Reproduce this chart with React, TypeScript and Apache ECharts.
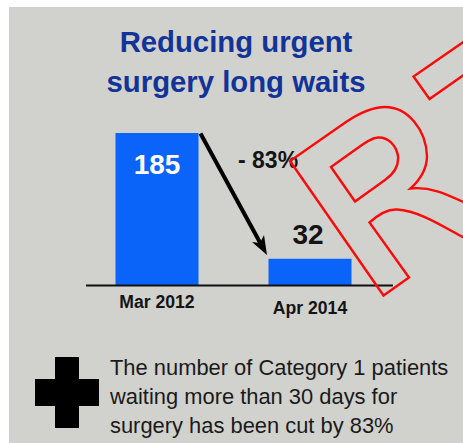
import React, { useEffect, useRef } from "react";
import * as echarts from "echarts";

const categories = ["Mar 2012", "Apr 2014"];
const waits = [185, 32];
const titleLines = ["Reducing urgent", "surgery long waits"];
const changeLabel = "- 83%";
const noteLines = [
  "The number of Category 1 patients",
  "waiting more than 30 days for",
  "surgery has been cut by 83%",
];

const R_OUTLINE =
  "M290 161 L383.5 295.5 L409 277.5 L369.5 222.5 C380 213 388 209 397 209.5 C420 211 442 226 470 241 L470 205 C450 196 432 186 410.5 188.5 C422 178 427 168 427 156 C426 130 408 107 385 107 C372 107 358 114 346 122 Z " +
  "M331 167 L355 201.5 L385 180 C395 173 399 165 398 156 C396 145 388 137 378 137.5 C370 138 362 145 352 152 Z " +
  "M413.5 76.5 L429.5 99 L475 67 L475 34 Z";
echarts.graphic.registerShape("stampR", echarts.graphic.extendPath(R_OUTLINE, {}) as any);

export default function App() {
  const ref = useRef<HTMLDivElement>(null);
  useEffect(() => {
    const chart = echarts.init(ref.current!, undefined, { renderer: "svg" });
    const black = "#141414";
    chart.setOption({
      animation: false,
      backgroundColor: "#ffffff",
      grid: { left: 80.5, width: 306, top: 133, height: 152, containLabel: false },
      xAxis: {
        type: "category",
        data: categories.map((c, i) => ({
          value: c,
          textStyle: { padding: [i === 0 ? 0 : 6, 0, 0, 0] },
        })),
        axisLine: { show: false },
        axisTick: { show: false },
        axisLabel: {
          margin: 8,
          fontFamily: "Liberation Sans",
          fontWeight: "bold",
          fontSize: 17.6,
          color: black,
        },
      },
      yAxis: { type: "value", min: 0, max: 185, show: false },
      series: [
        {
          type: "bar",
          barWidth: 83,
          itemStyle: { color: "#0a64fa" },
          data: [
            {
              value: waits[0],
              label: {
                show: true,
                position: "insideTop",
                distance: 17,
                color: "#ffffff",
                fontSize: 28,
                fontWeight: "bold",
                fontFamily: "Liberation Sans",
              },
            },
            {
              value: waits[1],
              label: {
                show: true,
                position: "top",
                distance: 10,
                offset: [-2, 0],
                color: black,
                fontSize: 28,
                fontWeight: "bold",
                fontFamily: "Liberation Sans",
              },
            },
          ],
          z: 3,
        },
      ],
      graphic: [
        { type: "rect", z: -10, silent: true, shape: { x: 9, y: 7, width: 454, height: 436 }, style: { fill: "#d1d2cd" } },
        { type: "line", z: 5, shape: { x1: 86, y1: 285.5, x2: 393, y2: 285.5 }, style: { stroke: "#111111", lineWidth: 2 } },
        { type: "line", z: 5, shape: { x1: 200.5, y1: 133.5, x2: 263, y2: 248 }, style: { stroke: "#000000", lineWidth: 4 } },
        { type: "polygon", z: 5, shape: { points: [[267, 255], [252, 242], [260, 243], [264, 235]] }, style: { fill: "#000000" } },
        ...titleLines.map((t, i) => ({
          type: "text", z: 6, x: 236, y: 41 + i * 40,
          style: { text: t, fill: "#123397", font: "bold 29.3px 'Liberation Sans'", textAlign: "center", textVerticalAlign: "middle" },
        })),
        {
          type: "text", z: 6, x: 238, y: 160,
          style: { text: changeLabel, fill: black, font: "bold 23px 'Liberation Sans'", textAlign: "left", textVerticalAlign: "middle" },
        },
        ...noteLines.map((t, i) => ({
          type: "text", z: 6, x: 110, y: 367 + i * 29,
          style: { text: t, fill: "#1a1a1a", font: "21.9px 'Liberation Sans'", textAlign: "left", textVerticalAlign: "middle" },
        })),
        {
          type: "polygon", z: 6,
          shape: { points: [[55, 357], [79, 357], [79, 379], [99, 379], [99, 406], [79, 406], [79, 428], [55, 428], [55, 406], [35, 406], [35, 379], [55, 379]] },
          style: { fill: "#000000" },
        },
        { type: "stampR", z: 8, style: { fill: "none", stroke: "#fb0a0a", lineWidth: 2.4 } },
      ],
    });
    return () => chart.dispose();
  }, []);
  return <div ref={ref} style={{ position: "fixed", left: 0, top: 0, width: 463, height: 443 }} />;
}
